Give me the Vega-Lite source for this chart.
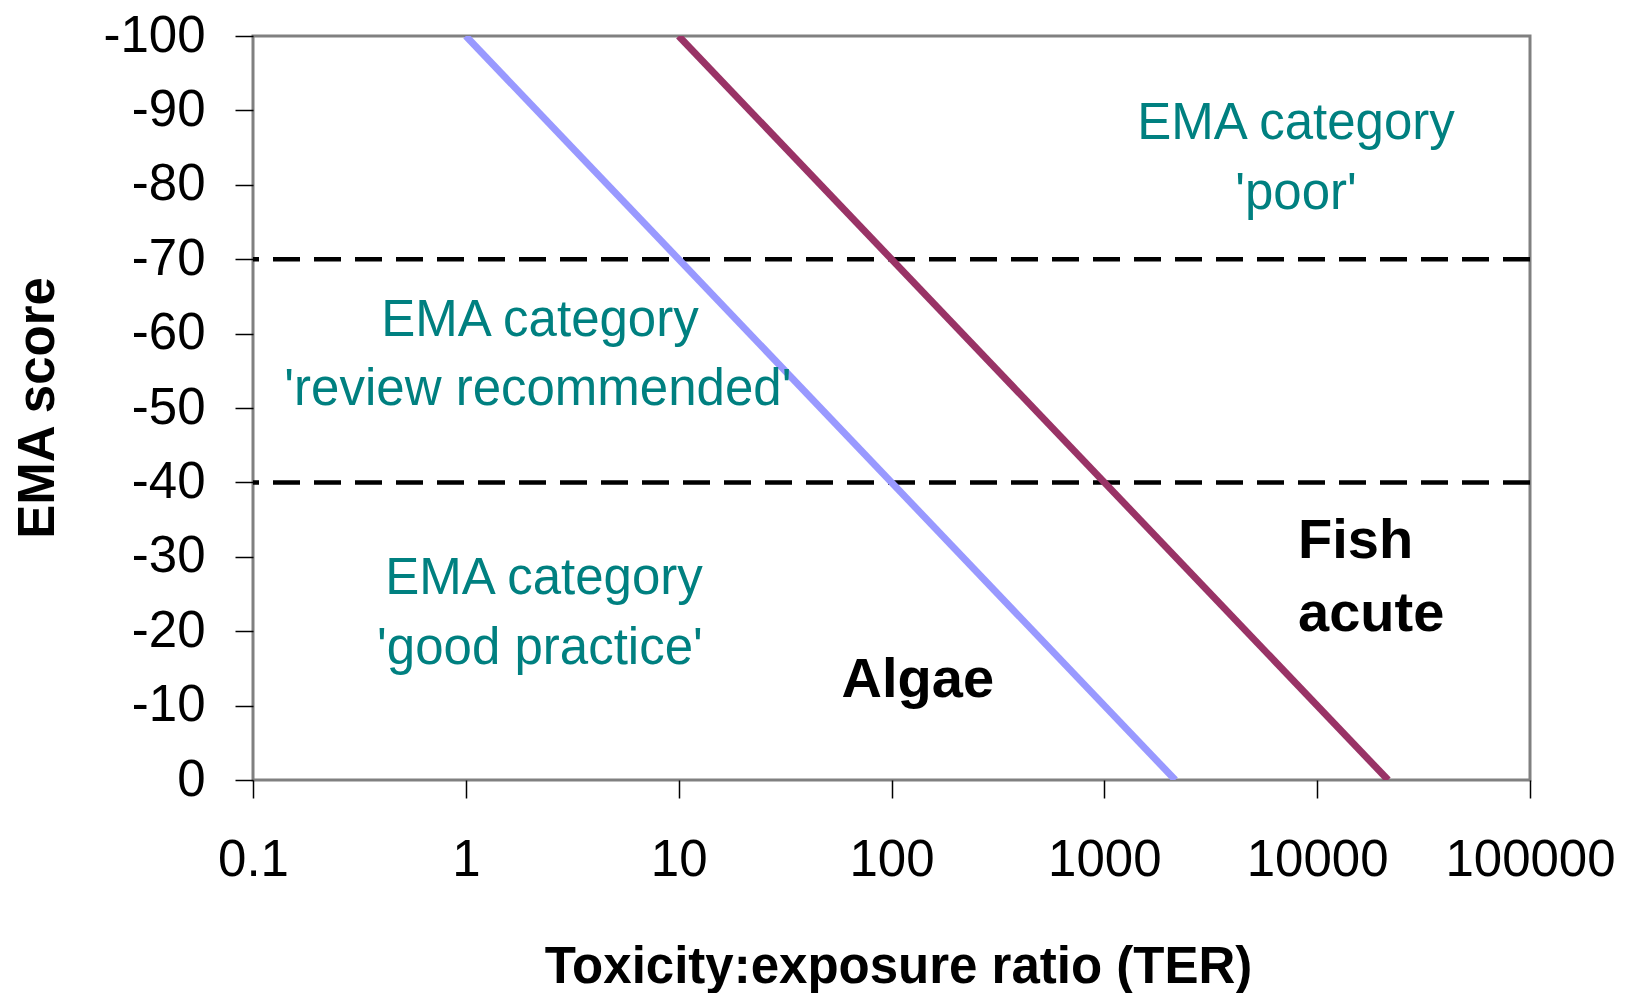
{
  "$schema": "https://vega.github.io/schema/vega-lite/v6.json",
  "width": 1277,
  "height": 744,
  "autosize": {"type": "none"},
  "padding": {"left": 253, "top": 36, "right": 105, "bottom": 213},
  "config": {
    "font": "Liberation Sans",
    "view": {"stroke": "#808080", "strokeWidth": 3}
  },
  "datasets": {
    "lines": [
      {"series": "Algae", "ter": 1, "score": -100},
      {"series": "Algae", "ter": 2154, "score": 0},
      {"series": "Fish acute", "ter": 10, "score": -100},
      {"series": "Fish acute", "ter": 21544, "score": 0}
    ],
    "thresholds": [
      {"score": -70},
      {"score": -40}
    ],
    "labels": [
      {"group": "teal", "text": "EMA category", "ter": 7956, "score": -86.16},
      {"group": "teal", "text": "'poor'", "ter": 7956, "score": -76.75},
      {"group": "teal", "text": "EMA category", "ter": 2.23, "score": -59.68},
      {"group": "teal", "text": "'review recommended'", "ter": 2.18, "score": -50.4},
      {"group": "teal", "text": "EMA category", "ter": 2.33, "score": -25.0},
      {"group": "teal", "text": "'good practice'", "ter": 2.23, "score": -15.6},
      {"group": "algae", "text": "Algae", "ter": 133, "score": -11.16},
      {"group": "fish", "text": "Fish", "ter": 8128, "score": -29.84},
      {"group": "fish", "text": "acute", "ter": 8128, "score": -20.03}
    ]
  },
  "layer": [
    {
      "data": {"name": "thresholds"},
      "mark": {"type": "rule", "color": "black", "strokeWidth": 4.5, "strokeDash": [27, 14]},
      "encoding": {
        "y": {"field": "score", "type": "quantitative"}
      }
    },
    {
      "data": {"name": "lines"},
      "mark": {"type": "line", "strokeWidth": 7, "clip": true},
      "encoding": {
        "x": {
          "field": "ter",
          "type": "quantitative",
          "scale": {"type": "log", "domain": [0.1, 100000], "nice": false},
          "axis": {
            "title": "Toxicity:exposure ratio (TER)",
            "values": [0.1, 1, 10, 100, 1000, 10000, 100000],
            "labelExpr": "'' + datum.value",
            "domain": false,
            "grid": false,
            "ticks": true,
            "tickColor": "black",
            "tickWidth": 1.5,
            "tickSize": 18,
            "labelFontSize": 51,
            "labelColor": "black",
            "labelBaseline": "top",
            "labelPadding": 37,
            "labelFlush": false,
            "labelOverlap": false,
            "titleFontSize": 51,
            "titleFontWeight": "bold",
            "titleColor": "black",
            "titleX": 645,
            "titleY": 202,
            "titleAlign": "center",
            "titleBaseline": "alphabetic"
          }
        },
        "y": {
          "field": "score",
          "type": "quantitative",
          "scale": {"domain": [-100, 0], "reverse": true, "nice": false, "zero": false},
          "axis": {
            "title": "EMA score",
            "values": [-100, -90, -80, -70, -60, -50, -40, -30, -20, -10, 0],
            "labelExpr": "'' + datum.value",
            "domain": false,
            "grid": false,
            "tickColor": "black",
            "tickWidth": 1.5,
            "tickSize": 18,
            "labelFontSize": 51,
            "labelColor": "black",
            "labelPadding": 30,
            "labelFlush": false,
            "labelOverlap": false,
            "labelBaseline": "middle",
            "titleFontSize": 51,
            "titleFontWeight": "bold",
            "titleColor": "black",
            "titleAngle": -90,
            "titleX": -200,
            "titleY": 371.5,
            "titleAlign": "center",
            "titleBaseline": "alphabetic"
          }
        },
        "color": {
          "field": "series",
          "type": "nominal",
          "scale": {"domain": ["Algae", "Fish acute"], "range": ["#9999FF", "#993366"]},
          "legend": null
        }
      }
    },
    {
      "data": {"name": "labels"},
      "transform": [{"filter": "datum.group === 'teal'"}],
      "mark": {"type": "text", "color": "#008080", "fontSize": 51, "align": "center", "baseline": "alphabetic"},
      "encoding": {
        "x": {"field": "ter", "type": "quantitative"},
        "y": {"field": "score", "type": "quantitative"},
        "text": {"field": "text"}
      }
    },
    {
      "data": {"name": "labels"},
      "transform": [{"filter": "datum.group === 'algae'"}],
      "mark": {"type": "text", "color": "black", "fontSize": 56, "fontWeight": "bold", "align": "center", "baseline": "alphabetic"},
      "encoding": {
        "x": {"field": "ter", "type": "quantitative"},
        "y": {"field": "score", "type": "quantitative"},
        "text": {"field": "text"}
      }
    },
    {
      "data": {"name": "labels"},
      "transform": [{"filter": "datum.group === 'fish'"}],
      "mark": {"type": "text", "color": "black", "fontSize": 56, "fontWeight": "bold", "align": "left", "baseline": "alphabetic"},
      "encoding": {
        "x": {"field": "ter", "type": "quantitative"},
        "y": {"field": "score", "type": "quantitative"},
        "text": {"field": "text"}
      }
    }
  ]
}
